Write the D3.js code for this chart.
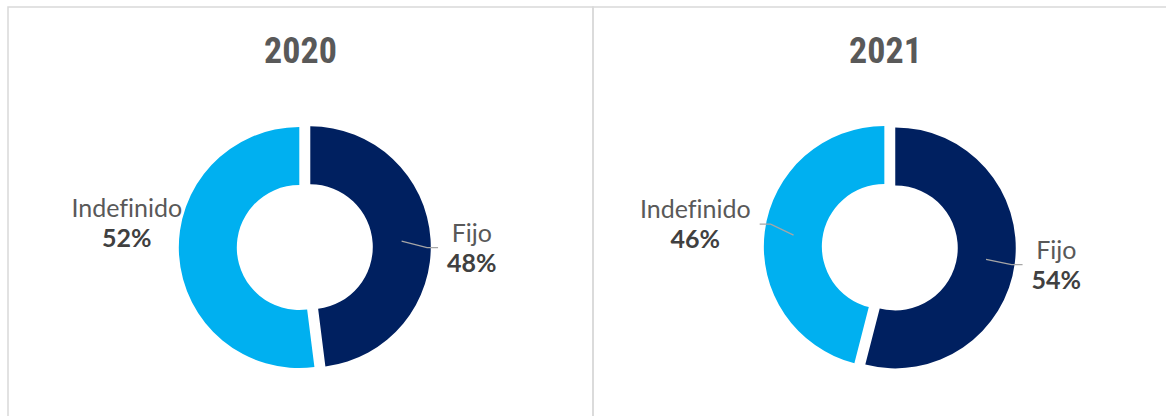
<!DOCTYPE html>
<html>
<head>
<meta charset="utf-8">
<script src="https://cdn.jsdelivr.net/npm/d3@7"></script>
<style>
  body { margin: 0; background: #fff; }
  text { font-variant-ligatures: none; }
</style>
</head>
<body>
<div id="chart"></div>
<script>
const width = 1166;
const height = 416;

// data
const years = ['2020', '2021'];
const categories = ['Fijo', 'Indefinido'];
const fijo = [48, 54];
const indefinido = [52, 46];

// label placement per chart (offset of first text baseline from donut center)
const labelOffsets = [
  { Fijo: [167, -5.5, true], Indefinido: [-178, -30.5, false] },
  { Fijo: [166.5, 11.5, true], Indefinido: [-194.5, -29, true] },
];

const colors = d3.scaleOrdinal()
  .domain(categories)
  .range(['#002060', '#00B0F0']);

const panel = { left: 8, top: 7, width: 585, height: 440 };
const outerR = 120.5;
const innerR = 62.5;
const explode = 5.5;

const svg = d3.select('#chart')
  .append('svg')
  .attr('width', width)
  .attr('height', height)
  .attr('viewBox', [0, 0, width, height]);

const pie = d3.pie().sort(null).value(d => d.value);
const arc = d3.arc().innerRadius(innerR).outerRadius(outerR);

years.forEach((year, i) => {
  const x0 = panel.left + i * panel.width;
  const g = svg.append('g');

  g.append('rect')
    .attr('x', x0)
    .attr('y', panel.top)
    .attr('width', panel.width)
    .attr('height', panel.height)
    .attr('fill', 'none')
    .attr('stroke', '#d9d9d9')
    .attr('stroke-width', 1.5);

  g.append('text')
    .attr('x', x0 + panel.width / 2)
    .attr('y', 62.5)
    .attr('text-anchor', 'middle')
    .attr('font-family', '"Liberation Sans Narrow", "Arial Narrow", "Roboto Condensed", sans-serif')
    .attr('font-weight', 'bold')
    .attr('font-size', '36px')
    .attr('fill', '#595959')
    .text(year);

  const cx = x0 + 296.8;
  const cy = 247.2;
  const slices = pie([
    { cat: 'Fijo', value: fijo[i] },
    { cat: 'Indefinido', value: indefinido[i] },
  ]);

  const donut = g.append('g').attr('transform', `translate(${cx},${cy})`);

  const dir = d => {
    const a = (d.startAngle + d.endAngle) / 2;
    return [Math.sin(a), -Math.cos(a)];
  };

  donut.selectAll('path')
    .data(slices)
    .join('path')
    .attr('d', arc)
    .attr('fill', d => colors(d.data.cat))
    .attr('transform', d => {
      const [ux, uy] = dir(d);
      return `translate(${ux * explode},${uy * explode})`;
    });

  const midR = (innerR + outerR) / 2;

  slices.forEach(d => {
    const [dx, dy, leader] = labelOffsets[i][d.data.cat];
    const lx = cx + dx;
    const ly = cy + dy;
    const t = g.append('text')
      .attr('x', lx)
      .attr('y', ly)
      .attr('text-anchor', 'middle')
      .attr('font-family', 'Lato, "Noto Sans", sans-serif')
      .attr('font-size', '25px');
    t.append('tspan')
      .attr('x', lx)
      .attr('fill', '#595959')
      .text(d.data.cat);
    t.append('tspan')
      .attr('x', lx)
      .attr('dy', 30)
      .attr('font-weight', 'bold')
      .attr('fill', '#404040')
      .text(d.data.value + '%');

    if (leader) {
      const box = t.node().getBBox();
      const [ux, uy] = dir(d);
      const px = cx + ux * (midR + explode);
      const py = cy + uy * (midR + explode);
      const right = px > lx;
      const hx = right ? box.x + box.width + 9 : box.x - 9;
      const ex = right ? hx + 11 : hx - 11;
      const hy = ly + 6;
      g.append('polyline')
        .attr('points', [[hx, hy], [ex, hy], [px, py]].map(p => p.join(',')).join(' '))
        .attr('fill', 'none')
        .attr('stroke', '#a6a6a6')
        .attr('stroke-width', 1.3);
    }
  });
});
</script>
</body>
</html>
